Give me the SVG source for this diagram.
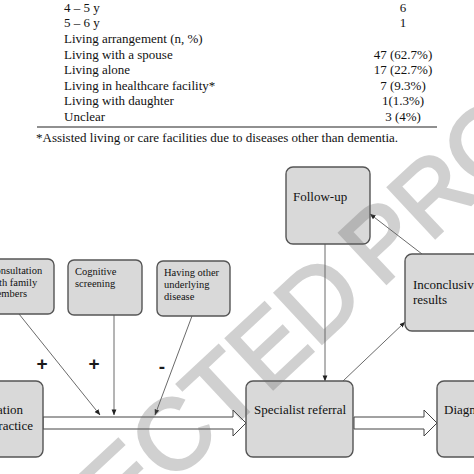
<svg xmlns="http://www.w3.org/2000/svg" width="474" height="474" viewBox="0 0 474 474">
<defs>
<marker id="ah" viewBox="0 0 8 8" refX="7.5" refY="4" markerWidth="6" markerHeight="6" orient="auto" markerUnits="userSpaceOnUse">
<path d="M0,0.8 L8,4 L0,7.2 Z" fill="#222"/>
</marker>
<style>
.t{font-family:"Liberation Serif","Times New Roman",serif;fill:#111}
.tb{font-size:13px}
.ts{font-size:10.5px}
.box{fill:#d9d9d9;stroke:#555;stroke-width:1.4}
.ln{stroke:#444;stroke-width:0.8;fill:none;marker-end:url(#ah)}
.ha{fill:#fff;stroke:#444;stroke-width:1}
.sg{font-family:"Liberation Sans",Arial,sans-serif;font-weight:bold;font-size:19px;fill:#1a1a1a}
</style>
</defs>
<rect width="474" height="474" fill="#fff"/>

<g id="table" class="t tb">
<text x="64" y="11.5">4 – 5 y</text><text x="403" y="11.5" text-anchor="middle">6</text>
<text x="64" y="27.2">5 – 6 y</text><text x="403" y="27.2" text-anchor="middle">1</text>
<text x="64" y="42.8">Living arrangement (n, %)</text>
<text x="64" y="58.5">Living with a spouse</text><text x="403" y="58.5" text-anchor="middle">47 (62.7%)</text>
<text x="64" y="74.1">Living alone</text><text x="403" y="74.1" text-anchor="middle">17 (22.7%)</text>
<text x="64" y="89.8">Living in healthcare facility*</text><text x="403" y="89.8" text-anchor="middle">7 (9.3%)</text>
<text x="64" y="105.4">Living with daughter</text><text x="403" y="105.4" text-anchor="middle">1(1.3%)</text>
<text x="64" y="121">Unclear</text><text x="403" y="121" text-anchor="middle">3 (4%)</text>
<line x1="37" y1="127" x2="437" y2="127" stroke="#222" stroke-width="1.2"/>
<text x="36" y="142">*Assisted living or care facilities due to diseases other than dementia.</text>
</g>

<g id="connectors">
<line class="ln" x1="19" y1="314" x2="100" y2="415"/>
<line class="ln" x1="114" y1="315" x2="114" y2="415"/>
<line class="ln" x1="192" y1="316" x2="155" y2="415"/>
<line class="ln" x1="325" y1="244" x2="325" y2="381"/>
<line class="ln" x1="343" y1="381" x2="405" y2="322"/>
<line class="ln" x1="422" y1="254" x2="370" y2="214"/>
<polygon class="ha" points="43,417 233,417 233,410 246,423 233,436 233,429 43,429"/>
<polygon class="ha" points="354,417 424,417 424,410 437,423 424,436 424,429 354,429"/>
<text class="sg" x="42" y="370" text-anchor="middle">+</text>
<text class="sg" x="94" y="370" text-anchor="middle">+</text>
<text class="sg" x="162" y="373" text-anchor="middle">-</text>
</g>

<g id="consultation">
<rect class="box" x="-30" y="259" width="84" height="55" rx="6"/>
<text class="t ts" x="-11.5" y="273.5">Consultation</text>
<text class="t ts" x="-11.5" y="285.5">with family</text>
<text class="t ts" x="-11.5" y="297">members</text>
</g>
<g id="cognitive">
<rect class="box" x="68" y="260" width="74" height="55" rx="6"/>
<text class="t ts" x="75" y="274.5">Cognitive</text>
<text class="t ts" x="75" y="286.5">screening</text>
</g>
<g id="other-disease">
<rect class="box" x="157" y="261" width="73" height="55" rx="6"/>
<text class="t ts" x="164" y="275.5">Having other</text>
<text class="t ts" x="164" y="287.5">underlying</text>
<text class="t ts" x="164" y="299.5">disease</text>
</g>
<g id="general-practice">
<rect class="box" x="-70" y="381" width="113" height="76" rx="7"/>
<text class="t tb" x="23" y="414" text-anchor="end">ation</text>
<text class="t tb" x="33" y="430" text-anchor="end">ractice</text>
</g>
<g id="follow-up">
<rect class="box" x="286" y="167" width="84" height="77" rx="7"/>
<text class="t tb" x="293" y="200.5">Follow-up</text>
</g>
<g id="inconclusive">
<rect class="box" x="405" y="254" width="100" height="77" rx="7"/>
<text class="t tb" x="413" y="288.5">Inconclusive</text>
<text class="t tb" x="413" y="304">results</text>
</g>
<g id="specialist">
<rect class="box" x="246" y="381" width="107" height="76" rx="7"/>
<text class="t tb" x="254" y="414">Specialist referral</text>
</g>
<g id="diagnosis">
<rect class="box" x="437" y="381" width="100" height="76" rx="7"/>
<text class="t tb" x="444" y="414">Diagnosis</text>
</g>

<g id="watermark" opacity="0.3">
<text x="0" y="0" transform="translate(-200,830) rotate(-43)" font-family="Liberation Sans, Arial, sans-serif" font-size="100" word-spacing="-12" fill="#666" stroke="#666" stroke-width="3">UNCORRECTED PROOF</text>
</g>
</svg>
